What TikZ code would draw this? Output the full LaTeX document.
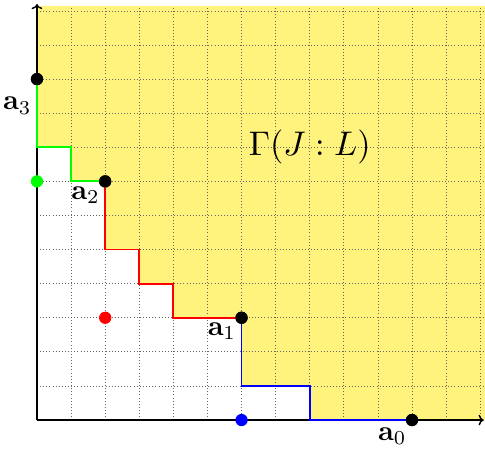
\documentclass[tikz,border=0pt]{standalone}
\usepackage{amsmath}
\usepackage{graphicx}
\usepackage{tikz}
\usetikzlibrary{arrows.meta, positioning}
\definecolor{idealyellow}{RGB}{255,242,125}
\newcommand{\biglab}[2][2.35]{\scalebox{#1}{$#2$}}

\begin{document}
\begin{tikzpicture}[
dot/.style={circle, fill=black, inner sep=0pt, minimum size=0.36cm},
stair/.style={line width=1.5pt},
lab/.style={inner sep=0pt},
gridline/.style={dotted, line width=0.6pt, black!60}
]
\useasboundingbox (-1.085,-0.82) rectangle (13.14,12.32);
% Shade the region above the staircase
\fill[idealyellow] (0,12.15) -- (0,8) -- (1,8) -- (1,7) -- (2,7) -- (2,5) -- (3,5) -- (3,4) -- (4,4) -- (4,3) -- (6,3) -- (6,1) -- (8,1) -- (8,0) -- (13.14,0) -- (13.14,12.15) -- cycle;
% Dotted lattice
\draw[gridline] (0,0) grid (13.14,12.15);
% Axes
\draw[line width=1.2pt, ->] (0,0) -- (13.1,0);
\draw[line width=1.2pt, ->] (0,0) -- (0,12.2);
% Generators and the points between them
\node[dot] (a0) at (11,0) {};
\node[dot] (a1) at (6,3) {};
\node[dot] (a2) at (2,7) {};
\node[dot] (a3) at (0,10) {};
% Staircase pieces
\draw[stair, green] (a3.center) -- (0,8) -- (1,8) -- (1,7) -- (a2.center);
\draw[stair, red] (a2.center) -- (2,5) -- (3,5) -- (3,4) -- (4,4) -- (4,3) -- (a1.center);
\draw[stair, blue] (a1.center) -- (6,1) -- (8,1) -- (8,0) -- (a0.center);
\node[dot] at (a0) {};
\node[dot] at (a1) {};
\node[dot] at (a2) {};
\node[dot] at (a3) {};
\node[dot, fill=green] (g) at (0,7) {};
\node[dot, fill=red] (r) at (2,3) {};
\node[dot, fill=blue] (b) at (6,0) {};
% Labels
\node[lab, below left=0.4cm and 0.02cm of a3] (a3-lab) {\biglab{\mathbf{a}_3}};
\node[lab, below left=0.02cm and 0.02cm of a2] (a2-lab) {\biglab{\mathbf{a}_2}};
\node[lab, below left=0.02cm and 0.02cm of a1] (a1-lab) {\biglab{\mathbf{a}_1}};
\node[lab, below left=0.08cm and 0.02cm of a0] (a0-lab) {\biglab{\mathbf{a}_0}};
\node (gamma) at (8,8) {\biglab[2.85]{\Gamma(J:L)}};
\end{tikzpicture}
\end{document}
